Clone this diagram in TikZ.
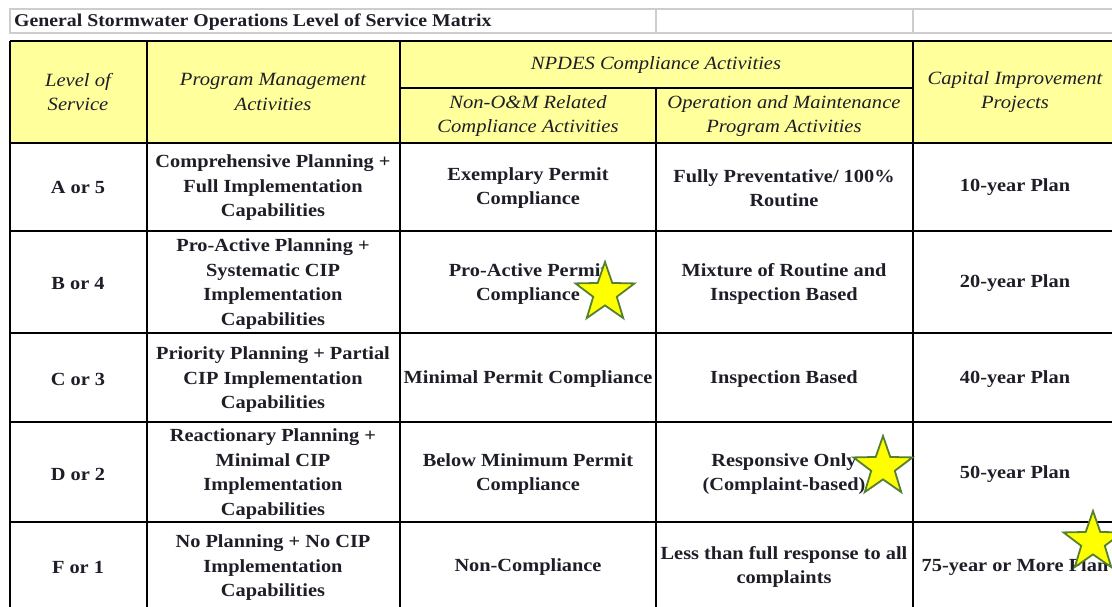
\documentclass[tikz,border=0pt]{standalone}
\usepackage{fontspec}
\setmainfont{Liberation Serif}[FakeStretch=1.1]
\usetikzlibrary{shapes.geometric}
\definecolor{hdyellow}{RGB}{255,255,155}
\definecolor{gridgray}{RGB}{205,205,205}
\definecolor{starfill}{RGB}{255,255,0}
\definecolor{starline}{RGB}{84,128,48}
\definecolor{txt}{RGB}{30,30,40}
\tikzset{
  cell/.style={font=\bfseries\fontsize{18.5}{24.5}\selectfont, align=center, inner sep=0pt, text=txt},
  hd/.style={font=\itshape\fontsize{18.7}{24.5}\selectfont, align=center, inner sep=0pt, text=txt},
  ttl/.style={font=\bfseries\fontsize{18}{20}\selectfont, inner sep=0pt, anchor=base west, text=txt},
  tline/.style={line width=2pt, black},
  gline/.style={line width=1.8pt, gridgray},
  mystar/.style={star, star points=5, star point ratio=2.5, draw=starline, fill=starfill, line width=1.8pt, inner sep=0pt, minimum size=62pt}
}
\begin{document}
\begin{tikzpicture}[x=1pt,y=-1pt]
\useasboundingbox (0,0) rectangle (1112,606);
\fill[white] (0,0) rectangle (1112,606);
% title row
\draw[gline] (10,9) rectangle (1125,33);
\draw[gline] (656,9) -- (656,33);
\draw[gline] (913,9) -- (913,33);
\node[ttl] (title) at (14,26) {General Stormwater Operations Level of Service Matrix};
% header fill
\fill[hdyellow] (10,41) rectangle (1125,143);
% lines
\draw[tline] (10,41) -- (1125,41);
\foreach \y in {143,231,333,422,522} \draw[tline] (10,\y) -- (1125,\y);
\draw[tline] (400,88) -- (913,88);
\foreach \x in {10,147,400,913} \draw[tline] (\x,41) -- (\x,615);
\draw[tline] (656,88) -- (656,615);
% header text
\node[hd] (h1) at (78,92) {Level of\\Service};
\node[hd] (h2) at (273,92) {Program Management\\Activities};
\node[hd] (h3) at (656,65) {NPDES Compliance Activities};
\node[hd] (h4) at (528,116) {Non-O\&M Related\\Compliance Activities};
\node[hd] (h5) at (784,116) {Operation and Maintenance\\Program Activities};
\node[hd] (h6) at (1015,92) {Capital Improvement\\Projects};
% row 1
\node[cell] (a1) at (78,187) {A or 5};
\node[cell] (a2) at (273,188) {Comprehensive Planning +\\Full Implementation\\Capabilities};
\node[cell] (a3) at (528,188) {Exemplary Permit\\Compliance};
\node[cell] (a4) at (784,188) {Fully Preventative/ 100\%\\Routine};
\node[cell] (a5) at (1015,187) {10-year Plan};
% row 2
\node[cell] (b1) at (78,283) {B or 4};
\node[cell] (b2) at (273,284) {Pro-Active Planning +\\Systematic CIP\\Implementation\\Capabilities};
\node[cell] (b3) at (528,284) {Pro-Active Permit\\Compliance};
\node[cell] (b4) at (784,284) {Mixture of Routine and\\Inspection Based};
\node[cell] (b5) at (1015,283) {20-year Plan};
% row 3
\node[cell] (c1) at (78,379) {C or 3};
\node[cell] (c2) at (273,380) {Priority Planning + Partial\\CIP Implementation\\Capabilities};
\node[cell] (c3) at (528,379) {Minimal Permit Compliance};
\node[cell] (c4) at (784,379) {Inspection Based};
\node[cell] (c5) at (1015,379) {40-year Plan};
% row 4
\node[cell] (d1) at (78,474) {D or 2};
\node[cell] (d2) at (273,474) {Reactionary Planning +\\Minimal CIP\\Implementation\\Capabilities};
\node[cell] (d3) at (528,474) {Below Minimum Permit\\Compliance};
\node[cell] (d4) at (784,474) {Responsive Only\\(Complaint-based)};
\node[cell] (d5) at (1015,474) {50-year Plan};
% row 5
\node[cell] (e1) at (78,567) {F or 1};
\node[cell] (e2) at (273,568) {No Planning + No CIP\\Implementation\\Capabilities};
\node[cell] (e3) at (528,567) {Non-Compliance};
\node[cell] (e4) at (784,567) {Less than full response to all\\complaints};
\node[cell] (e5) at (1015,567) {75-year or More Plan};
% stars
\node[mystar] (s1) at (605,293) {};
\node[mystar] (s2) at (883,467) {};
\node[mystar] (s3) at (1093,542) {};
\end{tikzpicture}
\end{document}
